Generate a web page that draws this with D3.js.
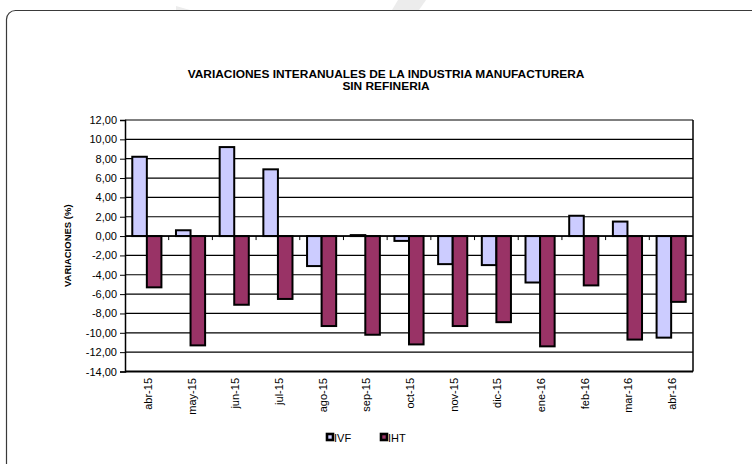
<!DOCTYPE html>
<html>
<head>
<meta charset="utf-8">
<script src="https://cdn.jsdelivr.net/npm/d3@7"></script>
<style>
  body { margin: 0; background: #fff; }
  svg { display: block; font-family: Arial, "Liberation Sans", sans-serif; }
</style>
</head>
<body>
<svg id="chart" width="752" height="464"></svg>
<script>
const categories = ['abr-15','may-15','jun-15','jul-15','ago-15','sep-15','oct-15','nov-15','dic-15','ene-16','feb-16','mar-16','abr-16'];
const ivf = [8.2, 0.6, 9.2, 6.9, -3.1, 0.1, -0.5, -2.9, -3.0, -4.8, 2.1, 1.5, -10.5];
const iht = [-5.3, -11.3, -7.1, -6.5, -9.3, -10.2, -11.2, -9.3, -8.9, -11.4, -5.1, -10.7, -6.8];
const seriesNames = ['IVF', 'IHT'];
const yTicks = [12, 10, 8, 6, 4, 2, 0, -2, -4, -6, -8, -10, -12, -14];

const colors = { IVF: '#ccccff', IHT: '#993366' };

const svg = d3.select('#chart');

// faint watermark bits at the top
svg.append('polygon').attr('points', '398,0 426,0 419,10 392,10').attr('fill', '#ececec');
svg.append('polygon').attr('points', '176,6 190,10 176,10').attr('fill', '#ececec');

// outer frame (runs off the right / bottom edge)
svg.append('rect')
    .attr('x', 6.5).attr('y', 10.5)
    .attr('width', 800).attr('height', 500)
    .attr('rx', 9).attr('ry', 9)
    .attr('fill', 'none')
    .attr('stroke', '#3a3a3a')
    .attr('stroke-width', 1.2);

// title (slightly wide, like the source)
const titleLines = ['VARIACIONES INTERANUALES DE LA INDUSTRIA MANUFACTURERA', 'SIN REFINERIA'];
svg.append('g')
    .selectAll('text')
    .data(titleLines)
    .join('text')
    .attr('transform', (d, i) => `translate(386,${77.5 + i * 12}) scale(1.19,1)`)
    .attr('text-anchor', 'middle')
    .style('font-size', '10px').style('font-weight', 'bold')
    .text(d => d);

const plotLeft = 125, plotRight = 693, plotTop = 120, plotBottom = 371.5;

const x = d3.scaleBand().domain(categories).range([plotLeft, plotRight]).padding(0);
const xSub = d3.scaleBand().domain(seriesNames).range([0, x.bandwidth()]).paddingInner(0).paddingOuter(0.5);
const y = d3.scaleLinear().domain([-14, 12]).range([plotBottom, plotTop]);

// gridlines
svg.append('g')
    .selectAll('line')
    .data(yTicks)
    .join('line')
    .attr('x1', plotLeft).attr('x2', plotRight)
    .attr('y1', d => y(d)).attr('y2', d => y(d))
    .attr('stroke', '#000')
    .attr('stroke-width', 1.2);

// y axis
const yAxis = svg.append('g')
    .attr('transform', `translate(${plotLeft},0)`)
    .call(d3.axisLeft(y).tickValues(yTicks).tickSize(5).tickPadding(3)
        .tickFormat(d => d3.format('.2f')(d).replace('.', ',').replace('−', '-')));
yAxis.select('.domain').attr('stroke', '#000').attr('stroke-width', 1.5);
yAxis.selectAll('.tick line').attr('stroke', '#000');
yAxis.selectAll('text').style('font-size', '11px').attr('fill', '#000')
    .style('font-family', 'Arial, "Liberation Sans", sans-serif');

// right and bottom border
svg.append('line').attr('x1', plotRight).attr('x2', plotRight).attr('y1', plotTop).attr('y2', plotBottom)
    .attr('stroke', '#000').attr('stroke-width', 1.5);
svg.append('line').attr('x1', plotLeft).attr('x2', plotRight).attr('y1', plotBottom).attr('y2', plotBottom)
    .attr('stroke', '#000').attr('stroke-width', 2);

svg.append('text')
    .attr('transform', `translate(71,${(plotTop + plotBottom) / 2}) rotate(-90)`)
    .attr('text-anchor', 'middle')
    .style('font-size', '9.5px').style('font-weight', 'bold')
    .text('VARIACIONES (%)');

// bars
const rows = categories.map((c, i) => ({ cat: c, IVF: ivf[i], IHT: iht[i] }));
const groups = svg.append('g')
    .selectAll('g')
    .data(rows)
    .join('g')
    .attr('transform', d => `translate(${x(d.cat)},0)`);

groups.selectAll('rect')
    .data(d => seriesNames.map(k => ({ key: k, value: d[k] })))
    .join('rect')
    .attr('x', d => xSub(d.key))
    .attr('width', xSub.bandwidth())
    .attr('y', d => y(Math.max(0, d.value)))
    .attr('height', d => Math.abs(y(d.value) - y(0)))
    .attr('fill', d => colors[d.key])
    .attr('stroke', '#000')
    .attr('stroke-width', 2);

// category axis at zero
const xAxis = svg.append('g')
    .attr('transform', `translate(0,${y(0)})`);
xAxis.append('line').attr('x1', plotLeft).attr('x2', plotRight)
    .attr('stroke', '#000').attr('stroke-width', 1.5);
xAxis.selectAll('.tk')
    .data(categories.slice(1))
    .join('line')
    .attr('class', 'tk')
    .attr('x1', d => x(d)).attr('x2', d => x(d))
    .attr('y1', 0).attr('y2', 4)
    .attr('stroke', '#000');

// category labels below the plot
svg.append('g')
    .selectAll('text')
    .data(categories)
    .join('text')
    .attr('transform', d => `translate(${x(d) + x.bandwidth() / 2 + 5},378) rotate(-90)`)
    .attr('text-anchor', 'end')
    .style('font-size', '11px')
    .text(d => d);

// legend
const legend = svg.append('g')
    .selectAll('g')
    .data(seriesNames)
    .join('g')
    .attr('transform', (d, i) => `translate(${327 + i * 54},434)`);
legend.append('rect')
    .attr('width', 6).attr('height', 6)
    .attr('fill', d => colors[d])
    .attr('stroke', '#000').attr('stroke-width', 2.6);
legend.append('text')
    .attr('x', 7).attr('y', 7.5)
    .style('font-size', '11px')
    .text(d => d);
</script>
</body>
</html>
